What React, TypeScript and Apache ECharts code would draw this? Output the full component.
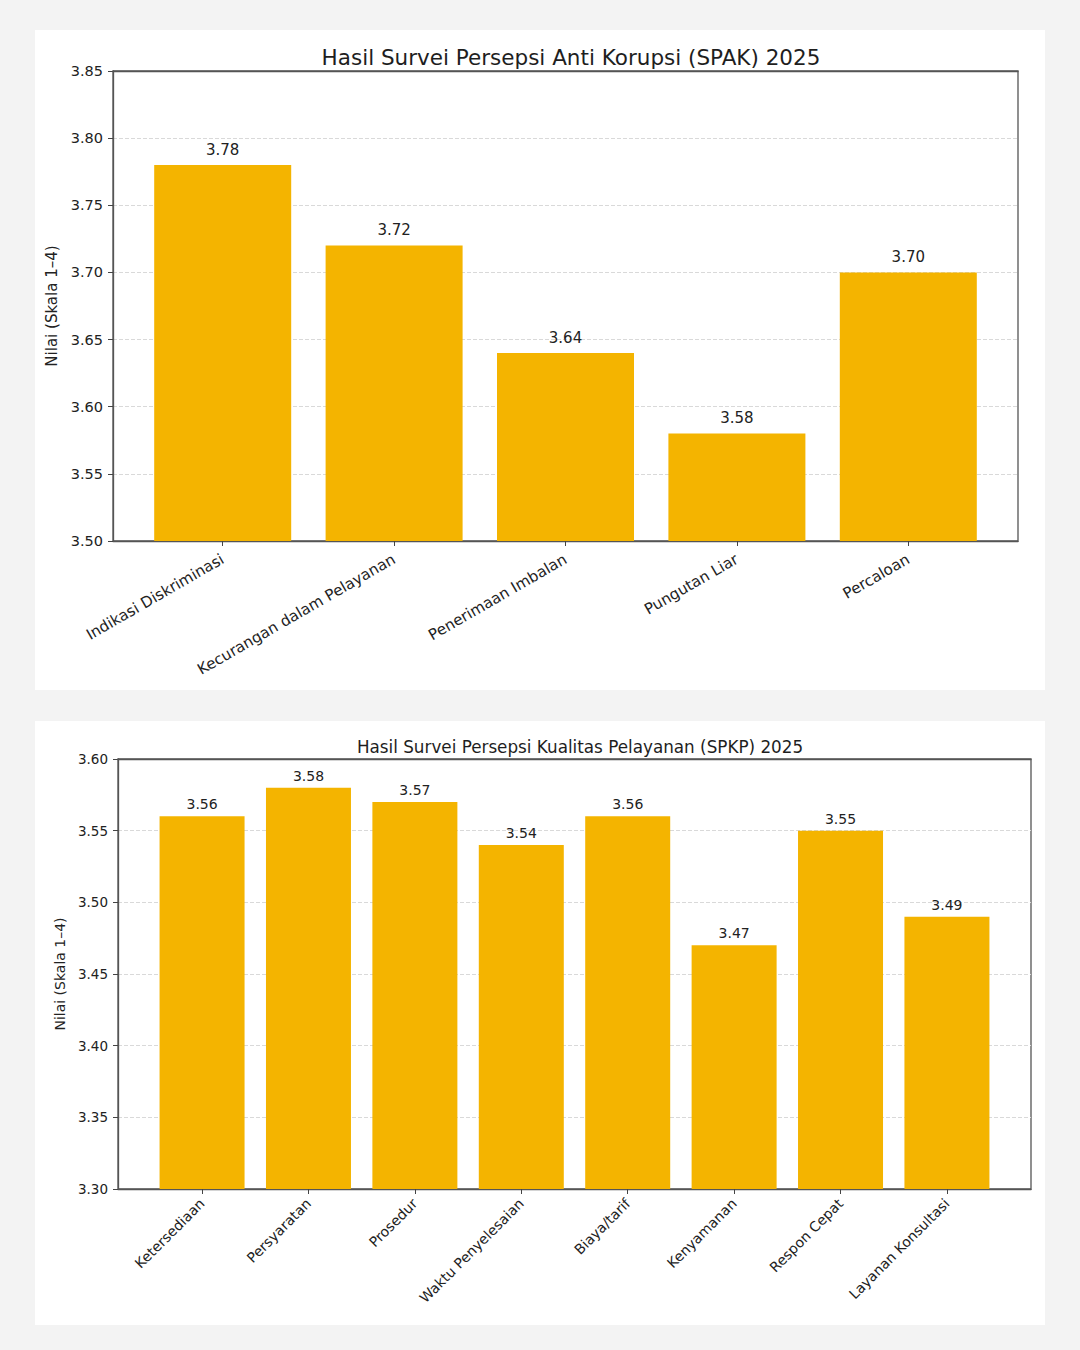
import React, { useEffect, useRef } from "react";
import * as echarts from "echarts";

const spakCategories = [
  "Indikasi Diskriminasi",
  "Kecurangan dalam Pelayanan",
  "Penerimaan Imbalan",
  "Pungutan Liar",
  "Percaloan",
];
const spakValues = [3.78, 3.72, 3.64, 3.58, 3.7];

const spkpCategories = [
  "Ketersediaan",
  "Persyaratan",
  "Prosedur",
  "Waktu Penyelesaian",
  "Biaya/tarif",
  "Kenyamanan",
  "Respon Cepat",
  "Layanan Konsultasi",
];
const spkpValues = [3.56, 3.58, 3.57, 3.54, 3.56, 3.47, 3.55, 3.49];

const FONT = "DejaVu Sans, sans-serif";
const BAR = "#F4B400";

type Cfg = {
  title: string;
  titleSize: number;
  titleX: number;
  titleY: number;
  cats: string[];
  vals: number[];
  yMin: number;
  yMax: number;
  xMin: number;
  xMax: number;
  grid: { left: number; top: number; right: number; bottom: number };
  barWidth: number;
  tickSize: number;
  valSize: number;
  valDist: number;
  xLabSize: number;
  xLabMargin: number;
  rotate: number;
  nameGap: number;
  nameSize: number;
};

function buildOption(c: Cfg) {
  const idx = c.cats.map((_, i) => i);
  const line = { color: "#555", width: 1.3 };
  return {
    animation: false,
    backgroundColor: "#ffffff",
    textStyle: { fontFamily: FONT },
    title: {
      text: c.title,
      left: c.titleX,
      top: c.titleY,
      textAlign: "center",
      textStyle: { fontFamily: FONT, fontSize: c.titleSize, fontWeight: "normal", color: "#1e1e1e" },
    },
    grid: {
      ...c.grid,
      show: true,
      borderColor: "#555",
      borderWidth: 1.3,
      backgroundColor: "transparent",
    },
    xAxis: [
      {
        type: "value",
        min: c.xMin,
        max: c.xMax,
        splitLine: { show: false },
        axisLine: { show: true, onZero: false, lineStyle: line },
        axisTick: { show: true, customValues: idx, length: 5, lineStyle: { color: "#444" } },
        axisLabel: {
          customValues: idx,
          rotate: c.rotate,
          margin: c.xLabMargin,
          fontSize: c.xLabSize,
          color: "#222",
          fontFamily: FONT,
          formatter: (v: number) => c.cats[Math.round(v)] ?? "",
        },
      },
      {
        type: "value",
        position: "top",
        min: c.xMin,
        max: c.xMax,
        z: 5,
        splitLine: { show: false },
        axisLine: { show: true, onZero: false, lineStyle: line },
        axisTick: { show: false },
        axisLabel: { show: false },
      },
    ],
    yAxis: {
      type: "value",
      min: c.yMin,
      max: c.yMax,
      interval: 0.05,
      name: "Nilai (Skala 1–4)",
      nameLocation: "middle",
      nameRotate: 90,
      nameGap: c.nameGap,
      nameTextStyle: { fontSize: c.nameSize, color: "#222", fontFamily: FONT },
      axisLine: { show: true, onZero: false, lineStyle: line },
      axisTick: { show: true, length: 5, lineStyle: { color: "#444" } },
      axisLabel: {
        fontSize: c.tickSize,
        color: "#222",
        margin: 10,
        fontFamily: FONT,
        formatter: (v: number) => v.toFixed(2),
      },
      splitLine: { show: true, lineStyle: { color: "#d9d9d9", type: "dashed", width: 1 } },
    },
    series: [
      {
        type: "bar",
        xAxisIndex: 0,
        barWidth: c.barWidth,
        data: c.vals.map((v, i) => [i, v]),
        itemStyle: { color: BAR },
        label: {
          show: true,
          position: "top",
          distance: c.valDist,
          fontSize: c.valSize,
          color: "#222",
          fontFamily: FONT,
          formatter: (p: any) => Number(p.value[1]).toFixed(2),
        },
      },
    ],
  };
}

function Chart({ cfg, style }: { cfg: Cfg; style: React.CSSProperties }) {
  const ref = useRef<HTMLDivElement>(null);
  useEffect(() => {
    if (!ref.current) return;
    const chart = echarts.init(ref.current, undefined, { renderer: "svg" });
    chart.setOption(buildOption(cfg) as any);
    return () => chart.dispose();
  }, []);
  return <div ref={ref} style={{ position: "absolute", background: "#fff", ...style }} />;
}

const cfg1: Cfg = {
  title: "Hasil Survei Persepsi Anti Korupsi (SPAK) 2025",
  titleSize: 21.5,
  titleX: 531,
  titleY: 11,
  cats: spakCategories,
  vals: spakValues,
  yMin: 3.5,
  yMax: 3.85,
  xMin: -0.64,
  xMax: 4.64,
  grid: { left: 78, top: 41, right: 27, bottom: 149 },
  barWidth: 137,
  tickSize: 14.5,
  valSize: 15,
  valDist: 8,
  xLabSize: 15.2,
  xLabMargin: 17,
  rotate: 30,
  nameGap: 48,
  nameSize: 15,
};

const cfg2: Cfg = {
  title: "Hasil Survei Persepsi Kualitas Pelayanan (SPKP) 2025",
  titleSize: 16.8,
  titleX: 540,
  titleY: 12,
  cats: spkpCategories,
  vals: spkpValues,
  yMin: 3.3,
  yMax: 3.6,
  xMin: -0.79,
  xMax: 7.79,
  grid: { left: 83, top: 38, right: 14, bottom: 136 },
  barWidth: 85,
  tickSize: 13.5,
  valSize: 14,
  valDist: 5,
  xLabSize: 14,
  xLabMargin: 12,
  rotate: 45,
  nameGap: 43,
  nameSize: 14,
};

export default function App() {
  useEffect(() => {
    document.body.style.margin = "0";
  }, []);
  return (
    <div style={{ position: "relative", width: 1080, height: 1350, background: "#f3f3f3", overflow: "hidden" }}>
      <Chart cfg={cfg1} style={{ left: 35, top: 30, width: 1010, height: 660 }} />
      <Chart cfg={cfg2} style={{ left: 35, top: 721, width: 1010, height: 604 }} />
    </div>
  );
}
